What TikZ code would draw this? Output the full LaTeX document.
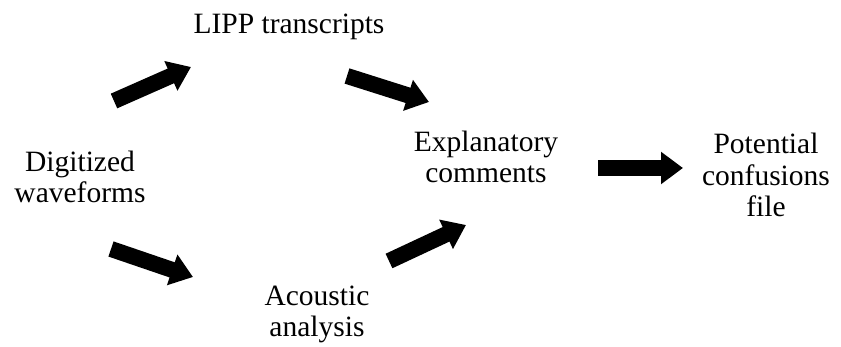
\documentclass[tikz,border=0pt]{standalone}
\usepackage{fontspec}
\setmainfont{Liberation Serif}
\usetikzlibrary{arrows.meta}
\tikzset{
  label/.style={font=\fontsize{29.5}{31.5}\selectfont, align=center, inner sep=0pt, anchor=base},
  blockarrow/.style={line width=16pt, -{Triangle[width=31pt,length=22pt]}}
}
\begin{document}
\begin{tikzpicture}[x=1pt,y=-1pt]
\useasboundingbox (0,0) rectangle (841,347);
\node[label] (lipp) at (289,34) {LIPP transcripts};
\node[label] (dig) at (80,203) {Digitized\\waveforms};
\node[label] (expl) at (486,183) {Explanatory\\comments};
\node[label] (pot) at (766,217) {Potential\\confusions\\file};
\node[label] (acou) at (317,337) {Acoustic\\analysis};
\coordinate (a1s) at (114,101);
\coordinate (a1e) at (191,67);
\coordinate (a2s) at (347,76);
\coordinate (a2e) at (429,102);
\coordinate (a3s) at (111,249);
\coordinate (a3e) at (193,277);
\coordinate (a4s) at (389,261);
\coordinate (a4e) at (466,225);
\coordinate (a5s) at (598,168);
\coordinate (a5e) at (683,168);
\draw[blockarrow] (a1s) -- (a1e);
\draw[blockarrow] (a2s) -- (a2e);
\draw[blockarrow] (a3s) -- (a3e);
\draw[blockarrow] (a4s) -- (a4e);
\draw[blockarrow] (a5s) -- (a5e);
\end{tikzpicture}
\end{document}
